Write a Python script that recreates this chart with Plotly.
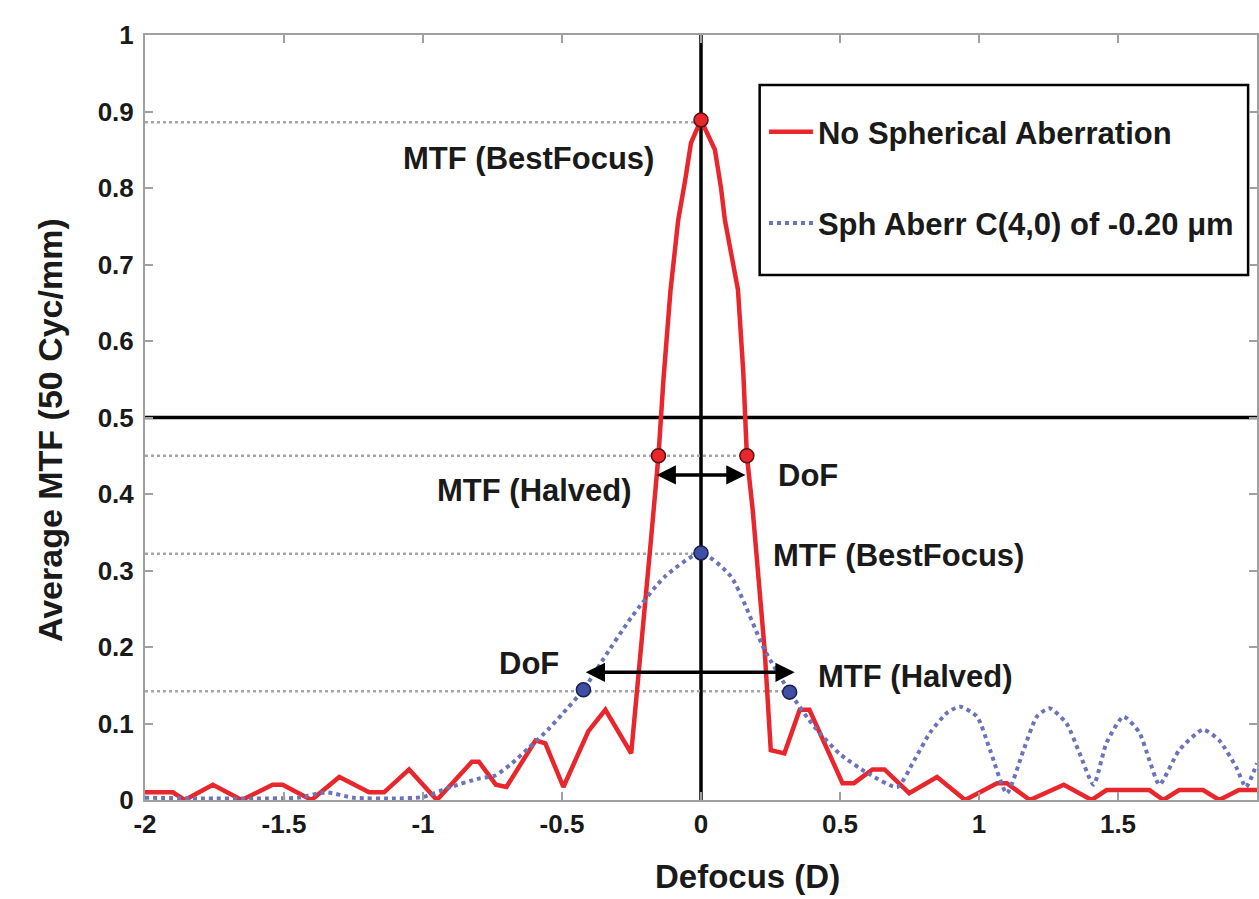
import plotly.graph_objects as go

# ---------------- data ----------------
defocus_red = [-2.0, -1.9, -1.857, -1.756, -1.652, -1.541, -1.505, -1.401, -1.301,
               -1.194, -1.140, -1.050, -0.950, -0.824, -0.799, -0.738, -0.700,
               -0.595, -0.560, -0.495, -0.405, -0.344, -0.251, -0.215, -0.180,
               -0.153, -0.135, -0.110, -0.082, -0.057, -0.036, 0.0,
               0.036, 0.050, 0.072, 0.086, 0.133, 0.152, 0.165, 0.186, 0.229,
               0.251, 0.300, 0.355, 0.390, 0.509, 0.550, 0.617, 0.660, 0.749,
               0.849, 0.950, 1.065, 1.100, 1.183, 1.305, 1.405, 1.459, 1.613,
               1.663, 1.720, 1.806, 1.864, 1.935, 2.0]
mtf_red = [0.010, 0.010, 0.000, 0.020, 0.000, 0.020, 0.020, 0.000, 0.030,
           0.010, 0.010, 0.040, 0.000, 0.050, 0.050, 0.020, 0.017,
           0.078, 0.074, 0.017, 0.090, 0.118, 0.061, 0.196, 0.340,
           0.450, 0.550, 0.665, 0.758, 0.810, 0.859, 0.889,
           0.859, 0.850, 0.800, 0.758, 0.667, 0.560, 0.450, 0.379, 0.196,
           0.065, 0.061, 0.118, 0.118, 0.022, 0.022, 0.040, 0.040, 0.009,
           0.030, 0.000, 0.022, 0.022, 0.000, 0.020, 0.000, 0.013, 0.013,
           0.000, 0.013, 0.013, 0.000, 0.013, 0.013]

defocus_blue = [-2.0, -1.8, -1.6, -1.45, -1.35, -1.25, -1.1, -1.0, -0.9, -0.8,
                -0.74, -0.68, -0.62, -0.55, -0.5, -0.423, -0.35, -0.25, -0.13,
                0.0, 0.108, 0.229, 0.319, 0.409, 0.5, 0.6, 0.706, 0.767, 0.824,
                0.885, 0.932, 0.993, 1.04, 1.10, 1.16, 1.208, 1.254, 1.315,
                1.362, 1.412, 1.459, 1.52, 1.577, 1.613, 1.649, 1.72, 1.806,
                1.864, 1.925, 1.96, 2.0]
mtf_blue = [0.003, 0.002, 0.002, 0.003, 0.010, 0.003, 0.002, 0.004, 0.017, 0.028,
            0.032, 0.048, 0.068, 0.092, 0.112, 0.144, 0.185, 0.239, 0.292,
            0.323, 0.292, 0.196, 0.141, 0.095, 0.060, 0.035, 0.017, 0.052, 0.088,
            0.114, 0.122, 0.109, 0.065, 0.009, 0.065, 0.109, 0.120, 0.100,
            0.061, 0.020, 0.075, 0.109, 0.088, 0.052, 0.020, 0.065, 0.092,
            0.078, 0.043, 0.017, 0.048]

red_marker_x = [0.0, -0.153, 0.165]
red_marker_y = [0.889, 0.45, 0.45]
blue_marker_x = [0.0, -0.423, 0.319]
blue_marker_y = [0.323, 0.144, 0.141]

ref_levels = [0.886, 0.450, 0.322, 0.142]
ref_ends = [0.0, 0.165, 0.0, 0.319]

x_tickvals = [-2, -1.5, -1, -0.5, 0, 0.5, 1, 1.5, 2]
x_ticktext = ["-2", "-1.5", "-1", "-0.5", "0", "0.5", "1", "1.5", "2"]
y_tickvals = [0, 0.1, 0.2, 0.3, 0.4, 0.5, 0.6, 0.7, 0.8, 0.9, 1]
y_ticktext = ["0", "0.1", "0.2", "0.3", "0.4", "0.5", "0.6", "0.7", "0.8", "0.9", "1"]

series_names = ["No Spherical Aberration", "Sph Aberr C(4,0) of -0.20 \u03bcm"]

annotations_text = [
    ("MTF (BestFocus)", -0.161, 0.839, "right"),
    ("MTF (Halved)", -0.240, 0.405, "right"),
    ("DoF", 0.269, 0.424, "left"),
    ("MTF (BestFocus)", 0.251, 0.320, "left"),
    ("DoF", -0.502, 0.178, "right"),
    ("MTF (Halved)", 0.412, 0.161, "left"),
]
red_arrow = (-0.165, 0.160, 0.425)
blue_arrow = (-0.420, 0.337, 0.167)

# ---------------- figure ----------------
FONT = "Liberation Sans, Arial, Helvetica, sans-serif"
RED = "#e8262b"
BLUE = "#6b73b9"
GRAY = "#a6a6a6"
AX = "#a0a0a0"

fig = go.Figure()

# gray dotted reference levels
for lvl, xe in zip(ref_levels, ref_ends):
    fig.add_trace(go.Scatter(x=[-2, xe], y=[lvl, lvl], mode="lines",
                             line=dict(color=GRAY, width=2.5, dash="dot"),
                             showlegend=False, hoverinfo="skip"))

fig.add_trace(go.Scatter(x=defocus_red, y=mtf_red, mode="lines",
                         name=series_names[0], legendgroup="a",
                         line=dict(color=RED, width=4.5)))
fig.add_trace(go.Scatter(x=defocus_blue, y=mtf_blue, mode="lines",
                         name=series_names[1], legendgroup="b",
                         line=dict(color=BLUE, width=4, dash="dot",
                                   shape="spline", smoothing=0.6)))

fig.add_trace(go.Scatter(x=red_marker_x, y=red_marker_y, mode="markers",
                         marker=dict(color=RED, size=14,
                                     line=dict(color="#5a1010", width=1.5)),
                         showlegend=False))
fig.add_trace(go.Scatter(x=blue_marker_x, y=blue_marker_y, mode="markers",
                         marker=dict(color="#3f4fa6", size=14,
                                     line=dict(color="#1a1f4a", width=1.5)),
                         showlegend=False))

# black reference lines
fig.add_shape(type="line", x0=0, x1=0, y0=0, y1=1, xref="x", yref="y",
              line=dict(color="black", width=3.5), layer="below")
fig.add_shape(type="line", x0=-2, x1=2, y0=0.5, y1=0.5, xref="x", yref="y",
              line=dict(color="black", width=3.5), layer="below")

# legend frame
fig.add_shape(type="rect", x0=0.211, x1=1.968, y0=0.6863, y1=0.9346,
              xref="x", yref="y", line=dict(color="black", width=2.5),
              fillcolor="white", layer="below")

# arrows
for x0, x1, yy in (red_arrow, blue_arrow):
    fig.add_annotation(x=x1, y=yy, ax=x0, ay=yy, xref="x", yref="y",
                       axref="x", ayref="y", text="", showarrow=True,
                       arrowhead=2, arrowside="end+start", arrowsize=1.1,
                       arrowwidth=3.5, arrowcolor="black")

for txt, xx, yy, anchor in annotations_text:
    fig.add_annotation(x=xx, y=yy, xref="x", yref="y", text=f"<b>{txt}</b>",
                       showarrow=False, xanchor=anchor, yanchor="middle",
                       font=dict(family=FONT, size=31, color="#1a1a1a"))

# axis titles
fig.add_annotation(x=0.5422, y=-0.100, xref="paper", yref="paper",
                   text="<b>Defocus (D)</b>", showarrow=False,
                   xanchor="center", yanchor="middle",
                   font=dict(family=FONT, size=33, color="#1a1a1a"))
fig.add_annotation(x=-0.0853, y=0.4837, xref="paper", yref="paper",
                   text="<b>Average MTF (50 Cyc/mm)</b>", showarrow=False,
                   textangle=-90, xanchor="center", yanchor="middle",
                   font=dict(family=FONT, size=34, color="#1a1a1a"))

fig.update_layout(
    width=1259, height=899,
    margin=dict(l=145, r=0, t=35, b=99),
    paper_bgcolor="white", plot_bgcolor="white",
    font=dict(family=FONT, color="#1a1a1a"),
    showlegend=True,
    legend=dict(x=0.5566, y=0.9085, xanchor="left", yanchor="top",
                bgcolor="rgba(0,0,0,0)", borderwidth=0,
                font=dict(family=FONT, size=31, color="#1a1a1a", weight="bold"),
                tracegroupgap=48, itemwidth=44, traceorder="grouped"),
    xaxis=dict(range=[-2, 2.0], tickvals=x_tickvals, ticktext=x_ticktext,
               showgrid=False, zeroline=False, showline=True, linecolor=AX,
               linewidth=2, mirror="ticks", ticks="inside", ticklen=8,
               tickcolor=AX, tickwidth=2,
               tickfont=dict(family=FONT, size=26, color="#1a1a1a", weight="bold")),
    yaxis=dict(range=[0, 1], tickvals=y_tickvals, ticktext=y_ticktext,
               showgrid=False, zeroline=False, showline=True, linecolor=AX,
               linewidth=2, mirror="ticks", ticks="inside", ticklen=8,
               tickcolor=AX, tickwidth=2, ticklabelstandoff=4,
               tickfont=dict(family=FONT, size=26, color="#1a1a1a", weight="bold")),
)

fig.write_html("out.html")
